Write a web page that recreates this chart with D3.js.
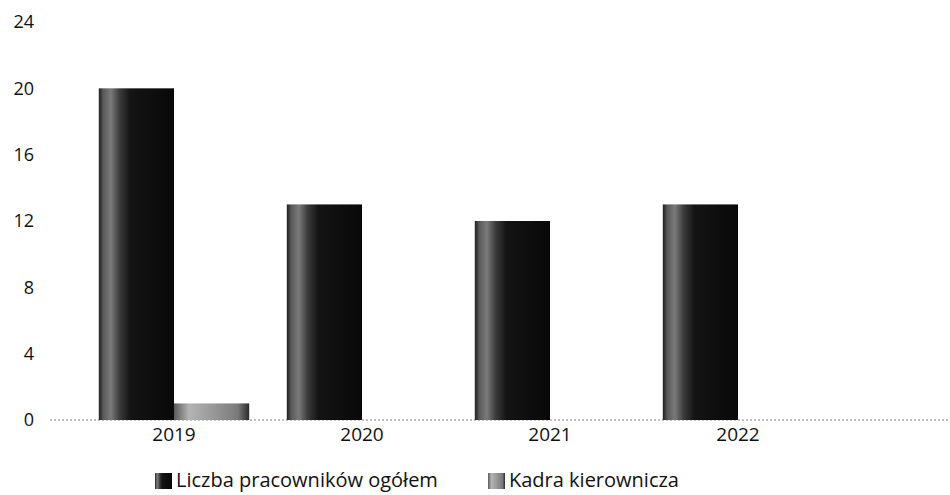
<!DOCTYPE html>
<html>
<head>
<meta charset="utf-8">
<script src="https://cdn.jsdelivr.net/npm/d3@7"></script>
<style>
  html, body { margin: 0; padding: 0; background: #fff; }
  svg { display: block; }
  text { font-family: "Open Sans", "Noto Sans", sans-serif; fill: #111; }
</style>
</head>
<body>
<svg id="chart" width="950" height="495"></svg>
<script>
const years = ["2019", "2020", "2021", "2022"];
const seriesNames = ["Liczba pracowników ogółem", "Kadra kierownicza"];
const totalEmployees = [20, 13, 12, 13];
const management = [1, 0, 0, 0];
const yTicks = [0, 4, 8, 12, 16, 20, 24];

const svg = d3.select("#chart");

const defs = svg.append("defs");
const g1 = defs.append("linearGradient").attr("id", "grad0").attr("x1", "0").attr("x2", "1").attr("y1", "0").attr("y2", "0");
[[0, "#1e1e1e"], [0.06, "#5a5a5a"], [0.16, "#7a7a7a"], [0.28, "#3a3a3a"], [0.42, "#141414"], [1, "#080808"]]
  .forEach(([o, c]) => g1.append("stop").attr("offset", o).attr("stop-color", c));
const g2 = defs.append("linearGradient").attr("id", "grad1").attr("x1", "0").attr("x2", "1").attr("y1", "0").attr("y2", "0");
[[0, "#5a5a5a"], [0.2, "#b4b4b4"], [0.5, "#9a9a9a"], [0.85, "#7a7a7a"], [1, "#2a2a2a"]]
  .forEach(([o, c]) => g2.append("stop").attr("offset", o).attr("stop-color", c));
const fills = ["url(#grad0)", "url(#grad1)"];

const y = d3.scaleLinear().domain([0, 24]).range([420, 22]);
const x0 = d3.scaleBand().domain(years).range([80, 832]).paddingInner(0.2).paddingOuter(0.1);
const x1 = d3.scaleBand().domain([0, 1]).range([0, x0.bandwidth()]).padding(0);

// Baseline (dotted)
svg.append("line")
  .attr("x1", 50).attr("x2", 950)
  .attr("y1", y(0)).attr("y2", y(0))
  .attr("stroke", "#888").attr("stroke-width", 1)
  .attr("stroke-dasharray", "2,2");

// Y axis labels
const yAxis = d3.axisLeft(y).tickValues(yTicks).tickSize(0).tickPadding(0);
const yg = svg.append("g").attr("transform", "translate(34,0)").call(yAxis);
yg.select(".domain").remove();
yg.selectAll("text").style("font-size", "18px").attr("fill", "#111")
  .attr("font-family", "'Open Sans', sans-serif");

// Bars
const data = years.map((yr, i) => ({ year: yr, values: [totalEmployees[i], management[i]] }));
const groups = svg.append("g").selectAll("g").data(data).join("g")
  .attr("transform", d => `translate(${x0(d.year)},0)`);
groups.selectAll("rect").data(d => d.values.map((v, k) => ({ v, k })).filter(e => e.v > 0)).join("rect")
  .attr("x", e => x1(e.k))
  .attr("width", x1.bandwidth())
  .attr("y", e => y(e.v))
  .attr("height", e => y(0) - y(e.v))
  .attr("fill", e => fills[e.k]);

// X axis labels
const xAxis = d3.axisBottom(x0).tickSize(0).tickPadding(0);
const xg = svg.append("g").attr("transform", `translate(0,${y(0) + 7})`).call(xAxis);
xg.select(".domain").remove();
xg.selectAll("text").style("font-size", "19px").attr("fill", "#111")
  .attr("font-family", "'Open Sans', sans-serif");

// Legend
const legendX = [155, 488];
const lg = svg.append("g").selectAll("g").data(seriesNames).join("g")
  .attr("transform", (d, i) => `translate(${legendX[i]},473)`);
lg.append("rect").attr("width", 17).attr("height", 16).attr("fill", (d, i) => fills[i]);
lg.append("text").attr("x", 21).attr("y", 14).style("font-size", "20px").text(d => d);
</script>
</body>
</html>
